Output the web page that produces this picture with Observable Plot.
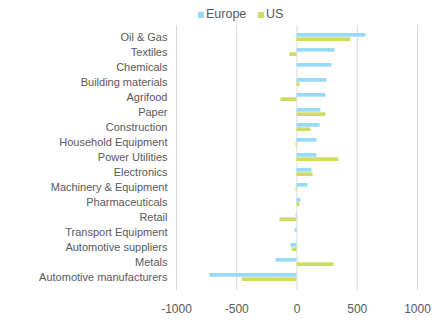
<!DOCTYPE html>
<html>
<head>
<meta charset="utf-8">
<script src="https://cdn.jsdelivr.net/npm/d3@7"></script>
<script src="https://cdn.jsdelivr.net/npm/@observablehq/plot@0.6"></script>
<style>
  html, body { margin: 0; padding: 0; background: #fff; font-family: "Liberation Sans", Arial, sans-serif; }
  #wrap { position: relative; width: 441px; height: 322px; }
  #legend { position: absolute; left: 0; top: 0; width: 441px; height: 22px; font-size: 12.5px; color: #595959; z-index: 2; }
  .sw { position: absolute; top: 12px; width: 6px; height: 6px; }
  .lt { position: absolute; top: 7px; line-height: 15px; }
  #chart svg { display: block; }
</style>
</head>
<body>
<div id="wrap">
<div id="legend">
  <span class="sw" style="left:198px;background:#97DBF9"></span><span class="lt" style="left:206px">Europe</span>
  <span class="sw" style="left:258px;background:#CEDD5F"></span><span class="lt" style="left:266px">US</span>
</div>
<div id="chart"></div>
</div>
<script>
const categories = ["Oil & Gas","Textiles","Chemicals","Building materials","Agrifood","Paper","Construction","Household Equipment","Power Utilities","Electronics","Machinery & Equipment","Pharmaceuticals","Retail","Transport Equipment","Automotive suppliers","Metals","Automotive manufacturers"];
const europe = [572, 315, 290, 249, 240, 199, 191, 166, 166, 124, 91, 33, -8, -17, -50, -174, -721];
const us = [448, -58, 0, 25, -133, 240, 116, -8, 348, 133, -8, 25, -141, 0, -41, 307, -456];
const xTicks = [-1000, -500, 0, 500, 1000];

const rowsEU = categories.map((c, i) => ({category: c, value: europe[i]}));
const rowsUS = categories.map((c, i) => ({category: c, value: us[i]}));

const chart = Plot.plot({
  width: 441,
  height: 322,
  marginTop: 25,
  marginBottom: 32,
  marginLeft: 176,
  marginRight: 24,
  style: {fontFamily: "Liberation Sans, Arial, sans-serif", color: "#595959", background: "#fff"},
  x: {domain: [-1000, 1000], ticks: xTicks, tickFormat: d => String(d), label: null},
  y: {domain: categories, paddingInner: 0.45, paddingOuter: 0.19, label: null},
  marks: [
    Plot.ruleX(xTicks, {stroke: "#d9d9d9", strokeWidth: 1}),
    Plot.barX(rowsEU, {y: "category", x: "value", fill: "#97DBF9", insetBottom: 4.3}),
    Plot.barX(rowsUS, {y: "category", x: "value", fill: "#CEDD5F", insetTop: 4.3}),
    Plot.axisX({ticks: xTicks, tickSize: 0, tickPadding: 14, fontSize: 12, tickFormat: d => String(d), label: null}),
    Plot.axisY({tickSize: 0, tickPadding: 9, fontSize: 11, label: null})
  ]
});
document.getElementById("chart").appendChild(chart);
</script>
</body>
</html>
